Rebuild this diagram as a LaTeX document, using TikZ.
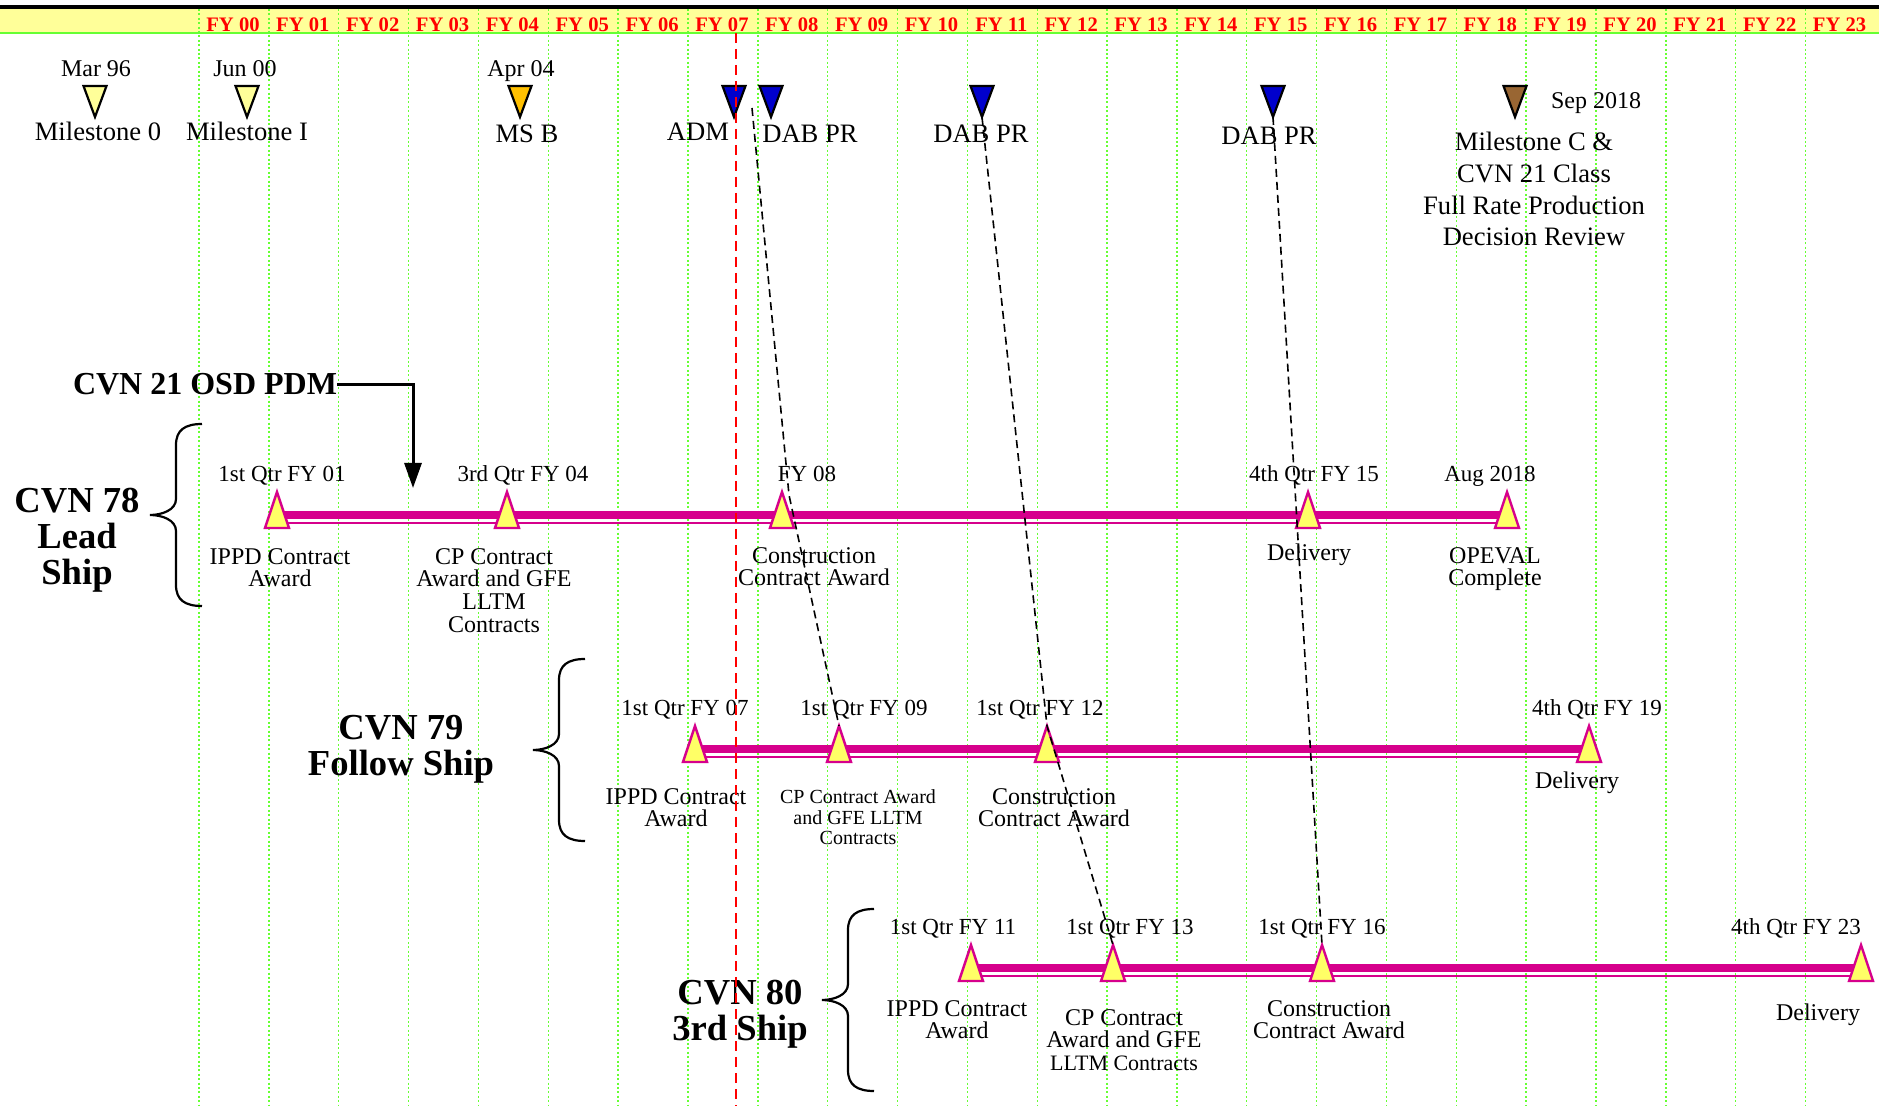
\documentclass[tikz,border=0pt]{standalone}
\usepackage{fontspec}
\setmainfont{Liberation Serif}
\usetikzlibrary{arrows.meta,positioning}
\definecolor{bandyellow}{RGB}{255,255,153}
\definecolor{gridgreen}{RGB}{102,255,51}
\definecolor{fyred}{RGB}{255,0,0}
\definecolor{barmagenta}{RGB}{214,0,140}
\definecolor{markyellow}{RGB}{255,255,102}
\definecolor{msyellow}{RGB}{255,255,153}
\definecolor{msorange}{RGB}{255,192,0}
\definecolor{dabblue}{RGB}{0,0,204}
\definecolor{msbrown}{RGB}{153,102,51}

\tikzset{
  fy/.style={text=fyred,font=\bfseries\fontsize{10.3}{12}\selectfont,anchor=base,inner sep=0pt},
  gridline/.style={gridgreen,line width=0.7pt,dash pattern=on 1pt off 1.2pt},
  nowline/.style={fyred,line width=1pt,dash pattern=on 5pt off 3pt},
  evt/.style={font=\fontsize{13.3}{15.8}\selectfont,anchor=base,inner sep=0pt},
  when/.style={font=\fontsize{12}{14}\selectfont,anchor=base,inner sep=0pt},
  qtr/.style={font=\fontsize{11.5}{13}\selectfont,anchor=base,inner sep=0pt},
  what/.style={font=\fontsize{12}{11.3}\selectfont,align=center,anchor=north,inner sep=0pt},
  shipname/.style={font=\bfseries\fontsize{18.3}{17.9}\selectfont,align=center,anchor=north,inner sep=0pt},
  pdm/.style={font=\bfseries\fontsize{16}{18}\selectfont,anchor=base,inner sep=0pt},
  pdmarrow/.style={line width=1.5pt,-{Triangle[length=12.5pt,width=8.5pt]}},
  thickbar/.style={barmagenta,line width=4pt},
  thinbar/.style={barmagenta,line width=1.25pt},
  dabline/.style={black,line width=0.8pt,dash pattern=on 4pt off 2.5pt},
  msmark/.pic={
    \filldraw[draw=black,line width=1.1pt] (-11.5,0) -- (11.5,0) -- (0,31) -- cycle;
    \coordinate (-tip) at (0,31);
  },
  shipmark/.pic={
    \filldraw[fill=markyellow,draw=barmagenta,line width=1.2pt] (-12,13) -- (0,-23) -- (12,13) -- cycle;
    \coordinate (-apex) at (0,-23);
  },
  shipbrace/.pic={
    \draw[line width=1.1pt] (52,-91) .. controls (35,-91) and (26,-85) .. (26,-70) -- (26,-16)
      .. controls (26,-5) and (12,0) .. (0,0) .. controls (12,0) and (26,5) .. (26,16)
      -- (26,70) .. controls (26,85) and (35,91) .. (52,91);
  },
}

\begin{document}
\begin{tikzpicture}[x=0.5pt,y=-0.5pt]
    \useasboundingbox (0,0) rectangle (1879,1106);
    \fill[white] (0,0) rectangle (1879,1106);

    % header band: fiscal years
    \fill[black] (0,5) rectangle (1879,9);
    \fill[bandyellow] (0,9) rectangle (1879,33);
    \foreach \n in {0,...,23}
      \draw[gridline] ({199+69.85*\n},9) -- ({199+69.85*\n},1106);
    \draw[gridgreen,line width=1.4pt] (0,33) -- (1879,33);
    \foreach \n in {0,...,23}
      \node[fy] (fy\n) at ({233+69.85*\n},31.5) {FY \ifnum\n<10 0\fi\n};

    % program milestones and reviews
    \pic[fill=msyellow] (ms0) at (95,86) {msmark};
    \pic[fill=msyellow] (ms1) at (247,86) {msmark};
    \pic[fill=msorange] (msb) at (520,86) {msmark};
    \pic[fill=dabblue] (adm) at (734,86) {msmark};
    \pic[fill=dabblue] (dab1) at (771,86) {msmark};
    \pic[fill=dabblue] (dab2) at (982,86) {msmark};
    \pic[fill=dabblue] (dab3) at (1273,86) {msmark};
    \pic[fill=msbrown] (msc) at (1515,86) {msmark};
    \node[when] (mar96) at (96,77) {Mar 96};
    \node[evt] (ms0lab) at (98,141) {Milestone 0};
    \node[when] (jun00) at (245,77) {Jun 00};
    \node[evt] (ms1lab) at (247,141) {Milestone I};
    \node[when] (apr04) at (521,77) {Apr 04};
    \node[evt] (msblab) at (527,143) {MS B};
    \node[evt] (admlab) at (698,141) {ADM};
    \node[evt] (dab1lab) at (810,143) {DAB PR};
    \node[evt] (dab2lab) at (981,143) {DAB PR};
    \node[evt] (dab3lab) at (1269,145) {DAB PR};
    \node[when] (sep18) at (1596,109) {Sep 2018};
    \node[evt,align=center,anchor=north] (msclab) at (1534,132)
      {Milestone C \&\\CVN 21 Class\\Full Rate Production\\Decision Review};

    % CVN 78: lead ship
    \node[shipname] (cvn78) at (77,488) {CVN 78\\Lead\\Ship};
    \pic (br78) at (150,515) {shipbrace};
    \coordinate (p78a) at (277,515);
    \coordinate (p78b) at (507,515);
    \coordinate (p78c) at (782,515);
    \coordinate (p78d) at (1308,515);
    \coordinate (p78e) at (1507,515);
    \draw[thickbar] (p78a) -- (p78e);
    \draw[thinbar] ([yshift=-4pt]p78a) -- ([yshift=-4pt]p78e);
    \foreach \p in {p78a,p78b,p78c,p78d,p78e}
      \pic (\p) at (\p) {shipmark};
    \node[qtr] (q78a) at (282,482) {1st Qtr FY 01};
    \node[qtr] (q78b) at (523,482) {3rd Qtr FY 04};
    \node[qtr] (q78c) at (807,482) {FY 08};
    \node[qtr] (q78d) at (1314,482) {4th Qtr FY 15};
    \node[qtr] (q78e) at (1490,482) {Aug 2018};
    \node[what] (w78a) at (280,548) {IPPD Contract\\Award};
    \node[what] (w78b) at (494,548) {CP Contract\\Award and GFE\\LLTM\\Contracts};
    \node[what] (w78c) at (814,547) {Construction\\Contract Award};
    \node[what] (w78d) at (1309,543) {Delivery};
    \node[what] (w78e) at (1495,547) {OPEVAL\\Complete};

    % CVN 79: follow ship
    \node[shipname] (cvn79) at (401,715) {CVN 79\\Follow Ship};
    \pic (br79) at (533,750) {shipbrace};
    \coordinate (p79a) at (695,749);
    \coordinate (p79b) at (839,749);
    \coordinate (p79c) at (1047,749);
    \coordinate (p79d) at (1589,749);
    \draw[thickbar] (p79a) -- (p79d);
    \draw[thinbar] ([yshift=-4pt]p79a) -- ([yshift=-4pt]p79d);
    \foreach \p in {p79a,p79b,p79c,p79d}
      \pic (\p) at (\p) {shipmark};
    \node[qtr] (q79a) at (685,715) {1st Qtr FY 07};
    \node[qtr] (q79b) at (864,715) {1st Qtr FY 09};
    \node[qtr] (q79c) at (1040,715) {1st Qtr FY 12};
    \node[qtr] (q79d) at (1597,715) {4th Qtr FY 19};
    \node[what] (w79a) at (676,788) {IPPD Contract\\Award};
    \node[what,font=\fontsize{10}{10.4}\selectfont] (w79b) at (858,789) {CP Contract Award\\and GFE LLTM\\Contracts};
    \node[what] (w79c) at (1054,788) {Construction\\Contract Award};
    \node[what] (w79d) at (1577,771) {Delivery};

    % CVN 80: 3rd ship
    \node[shipname] (cvn80) at (740,980) {CVN 80\\3rd Ship};
    \pic (br80) at (822,1000) {shipbrace};
    \coordinate (p80a) at (971,968);
    \coordinate (p80b) at (1113,968);
    \coordinate (p80c) at (1322,968);
    \coordinate (p80d) at (1861,968);
    \draw[thickbar] (p80a) -- (p80d);
    \draw[thinbar] ([yshift=-4pt]p80a) -- ([yshift=-4pt]p80d);
    \foreach \p in {p80a,p80b,p80c,p80d}
      \pic (\p) at (\p) {shipmark};
    \node[qtr] (q80a) at (953,934) {1st Qtr FY 11};
    \node[qtr] (q80b) at (1130,934) {1st Qtr FY 13};
    \node[qtr] (q80c) at (1322,934) {1st Qtr FY 16};
    \node[qtr] (q80d) at (1796,934) {4th Qtr FY 23};
    \node[what] (w80a) at (957,1000) {IPPD Contract\\Award};
    \node[what] (w80b) at (1124,1009) {CP Contract\\Award and GFE\\{\fontsize{11}{11.3}\selectfont LLTM Contracts}};
    \node[what] (w80c) at (1329,1000) {Construction\\Contract Award};
    \node[what] (w80d) at (1818,1003) {Delivery};

    % OSD decision
    \node[pdm] (pdm) at (205,395) {CVN 21 OSD PDM};
    \coordinate (pdmtip) at (413,488);
    \draw[pdmarrow] (pdm.east) -| (pdmtip);

    % today line
    \draw[nowline] (736,33) -- (736,1106);

    % review links down to the ships
    \coordinate (admlink) at (752,108);
    \coordinate (bend78) at (789,495);
    \draw[dabline] (admlink) -- (bend78) -- (p79b-apex);
    \draw[dabline] (dab2-tip) -- (p79c-apex) -- (p80b-apex);
    \draw[dabline] (dab3-tip) -- (p80c-apex);
  \end{tikzpicture}
\end{document}
